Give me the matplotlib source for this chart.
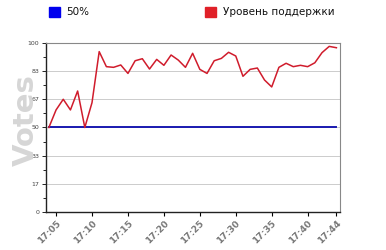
import matplotlib
matplotlib.use("Agg")
import matplotlib.pyplot as plt
from matplotlib.patches import Rectangle

# minute-by-minute support level, 17:04 .. 17:44
times = ["17:%02d" % m for m in range(4, 45)]
support = [50, 60.4, 66.7, 60.4, 71.6, 50, 64.7, 94.9, 86, 85.6,
           87, 82, 89.5, 90.7, 84.6, 90.3, 86.8, 92.9, 89.9, 85.6,
           93.9, 84.4, 82, 89.5, 90.9, 94.5, 92.3, 80.3, 84.4, 85.2,
           78.1, 74, 85.6, 88, 86, 86.8, 86, 88.3, 94.3, 98, 97.2]
half = [50] * len(times)
xtick_labels = ["17:05", "17:10", "17:15", "17:20", "17:25",
                "17:30", "17:35", "17:40", "17:44"]
ytick_labels = ["0", "17", "33", "50", "67", "83", "100"]

RED = "#d01c2c"
BLUE = "#1a1ab0"


def to_min(t):
    h, m = t.split(":")
    return int(h) * 60 + int(m) - 17 * 60


x = [to_min(t) for t in times]

fig = plt.figure(figsize=(3.86, 2.5), dpi=100)
ax = fig.add_axes([46 / 386, 1 - 212 / 250, 294 / 386, 169 / 250])

# big faint axis title sits behind the tick labels
fig.text(26 / 386, 1 - 120 / 250, "Votes", rotation=90, ha="center",
         va="center", fontsize=21, fontweight="bold", color="#d6d6d6",
         zorder=0)

ax.plot(x, half, color=BLUE, lw=1.4, zorder=3)
ax.plot(x, support, color=RED, lw=1.1, zorder=4)

ax.set_xlim(3.6, 44.5)
ax.set_ylim(0, 100)
ax.set_xticks([to_min(t) for t in xtick_labels])
ax.set_xticklabels(xtick_labels, rotation=45, ha="right", va="top",
                   rotation_mode="anchor", fontsize=6.5, color="#777777",
                   fontweight="bold")
ax.set_yticks([100 / 6 * k for k in range(len(ytick_labels))])
ax.set_yticklabels(ytick_labels, fontsize=4.5, color="#444444")
ax.set_yticks([100 / 12 * k for k in range(1, 12, 2)], minor=True)
ax.tick_params(axis="y", which="major", length=3, width=0.6, pad=2)
ax.tick_params(axis="y", which="minor", length=2, width=0.6)
ax.tick_params(axis="x", length=3, width=0.8, pad=2)
ax.yaxis.grid(True, color="#cccccc", lw=0.7)
ax.set_axisbelow(True)
ax.patch.set_alpha(0)

for s in ("left", "bottom"):
    ax.spines[s].set_color("#222222")
    ax.spines[s].set_linewidth(1.0)
for s in ("top", "right"):
    ax.spines[s].set_color("#888888")
    ax.spines[s].set_linewidth(0.8)

# legend across the top
fig.patches.append(Rectangle((49 / 386, 1 - 17 / 250), 11 / 386, 10 / 250,
                             transform=fig.transFigure, color="#0000ee"))
fig.text(66 / 386, 1 - 12 / 250, "50%", fontsize=7.5, va="center",
         color="#111111")
fig.patches.append(Rectangle((205 / 386, 1 - 17 / 250), 11 / 386, 10 / 250,
                             transform=fig.transFigure, color="#e02028"))
fig.text(223 / 386, 1 - 12 / 250, "Уровень поддержки", fontsize=7.5,
         va="center", color="#111111")

fig.savefig("out.png", dpi=100, facecolor="white")
